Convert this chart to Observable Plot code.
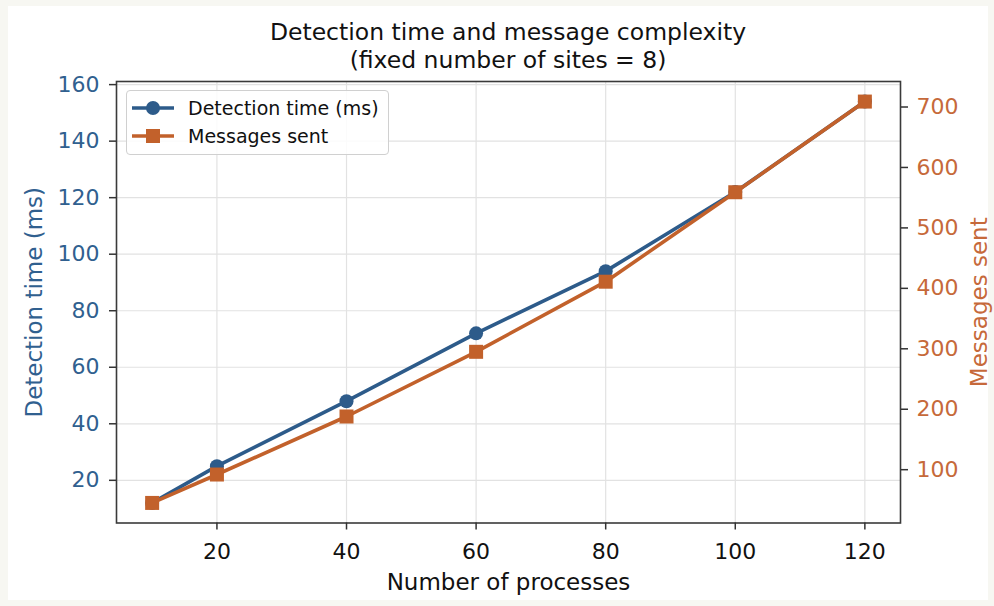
<!DOCTYPE html>
<html><head><meta charset="utf-8">
<script src="https://cdn.jsdelivr.net/npm/d3@7"></script>
<script src="https://cdn.jsdelivr.net/npm/@observablehq/plot@0.6"></script>
<style>
html,body{margin:0;padding:0;width:994px;height:606px;overflow:hidden;background:#f7f7f2;font-family:"DejaVu Sans",sans-serif;}
#card{position:absolute;left:8px;top:6px;width:980px;height:594px;background:#fff;}
#title{position:absolute;left:116px;width:784px;top:18px;text-align:center;font-size:23.5px;line-height:28px;color:#111;}
#chart{position:absolute;left:0;top:72px;}
#legend{position:absolute;left:126px;top:90px;width:261px;height:63px;border:1px solid #d0d0d0;border-radius:4px;background:rgba(255,255,255,0.85);}
.row{position:absolute;left:0;height:28px;width:100%;}
.row svg{position:absolute;left:4px;top:0;}
.row span{position:absolute;left:61px;top:3px;font-size:19px;line-height:22px;color:#111;white-space:nowrap;}
</style></head><body>
<div id="card"></div>
<div id="title"></div>
<div id="chart"></div>
<div id="legend"></div>
<script>
// ---- data ----
const processes    = [10, 20, 40, 60, 80, 100, 120];
const detectionMs  = [12, 25, 48, 72, 94, 122, 154];
const messagesSent = [45, 92, 188, 295, 411, 559, 709];
const xTicks     = [20, 40, 60, 80, 100, 120];
const leftTicks  = [20, 40, 60, 80, 100, 120, 140, 160];
const rightTicks = [100, 200, 300, 400, 500, 600, 700];
const titleLines = ["Detection time and message complexity", "(fixed number of sites = 8)"];
const xLabel = "Number of processes";
const yLabelLeft = "Detection time (ms)";
const yLabelRight = "Messages sent";
const seriesNames = ["Detection time (ms)", "Messages sent"];

const BLUE = "#2d5b8a";
const ORANGE = "#c2612b";
const BLUE_TXT = "#30608f";
const ORANGE_TXT = "#c6693a";

document.getElementById("title").innerHTML = titleLines.join("<br>");

function padded(vals){ const [a,b] = d3.extent(vals); const m = (b-a)*0.05; return [a-m, b+m]; }
const xDomain = padded(processes);
const yDomain = padded(detectionMs);
const mDomain = padded(messagesSent);
const toY = d3.scaleLinear(mDomain, yDomain);

const rows = processes.map((p,i) => ({p, det: detectionMs[i], msg: messagesSent[i]}));

const chart = Plot.plot({
  width: 994, height: 528,
  marginTop: 9, marginBottom: 77.5, marginLeft: 116, marginRight: 94,
  x: {domain: xDomain},
  y: {domain: yDomain},
  style: {fontFamily: "DejaVu Sans", fontSize: "22px", background: "transparent", overflow: "visible"},
  marks: [
    Plot.gridX(xTicks, {stroke: "#e2e2e2", strokeOpacity: 1, strokeWidth: 1.2}),
    Plot.gridY(leftTicks, {stroke: "#e2e2e2", strokeOpacity: 1, strokeWidth: 1.2}),
    Plot.line(rows, {x: "p", y: "det", stroke: BLUE, strokeWidth: 3.6}),
    Plot.dot(rows, {x: "p", y: "det", fill: BLUE, r: 7, symbol: "circle"}),
    Plot.line(rows, {x: "p", y: d => toY(d.msg), stroke: ORANGE, strokeWidth: 3.6}),
    Plot.dot(rows, {x: "p", y: d => toY(d.msg), fill: ORANGE, r: 7.9, symbol: "square"}),
    Plot.frame({stroke: "#3a3a3a", strokeWidth: 1.6}),
    Plot.axisX(xTicks, {tickSize: 7, tickPadding: 13, stroke: "#333", color: "#111", label: null, strokeWidth: 1.5}),
    Plot.axisY(leftTicks, {anchor: "left", tickSize: 7, tickPadding: 10, stroke: "#333", color: BLUE_TXT, label: null, strokeWidth: 1.5}),
    Plot.axisY(rightTicks.map(v => toY(v)), {anchor: "right", tickSize: 7, tickPadding: 9, stroke: "#333", color: ORANGE_TXT, label: null, strokeWidth: 1.5,
      tickFormat: d => String(Math.round(toY.invert(d)))}),
    Plot.text([yLabelLeft], {frameAnchor: "left", dx: -82, rotate: -90, textAnchor: "middle", lineAnchor: "middle", fill: BLUE_TXT, fontSize: 23}),
    Plot.text([yLabelRight], {frameAnchor: "right", dx: 79, rotate: -90, textAnchor: "middle", lineAnchor: "middle", fill: ORANGE_TXT, fontSize: 23}),
    Plot.text([xLabel], {frameAnchor: "bottom", dy: 60, textAnchor: "middle", lineAnchor: "middle", fill: "#111", fontSize: 23})
  ]
});
document.getElementById("chart").appendChild(chart);

// legend
const legend = document.getElementById("legend");
const ns = "http://www.w3.org/2000/svg";
seriesNames.forEach((name, i) => {
  const row = document.createElement("div");
  row.className = "row";
  row.style.top = (i === 0 ? 3 : 31) + "px";
  const svg = document.createElementNS(ns, "svg");
  svg.setAttribute("width", 48); svg.setAttribute("height", 28);
  const ln = document.createElementNS(ns, "line");
  ln.setAttribute("x1", 1); ln.setAttribute("x2", 43); ln.setAttribute("y1", 14); ln.setAttribute("y2", 14);
  ln.setAttribute("stroke", i === 0 ? BLUE : ORANGE); ln.setAttribute("stroke-width", 3.6);
  svg.appendChild(ln);
  let mk;
  if (i === 0) {
    mk = document.createElementNS(ns, "circle");
    mk.setAttribute("cx", 22); mk.setAttribute("cy", 14); mk.setAttribute("r", 7);
  } else {
    mk = document.createElementNS(ns, "rect");
    mk.setAttribute("x", 15); mk.setAttribute("y", 7); mk.setAttribute("width", 14); mk.setAttribute("height", 14);
  }
  mk.setAttribute("fill", i === 0 ? BLUE : ORANGE);
  svg.appendChild(mk);
  const sp = document.createElement("span");
  sp.textContent = name;
  row.appendChild(svg); row.appendChild(sp);
  legend.appendChild(row);
});
</script>
</body></html>
